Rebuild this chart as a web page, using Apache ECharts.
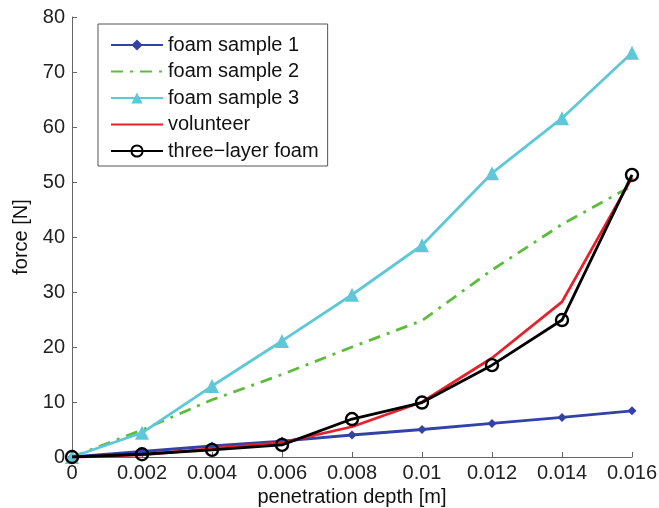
<!DOCTYPE html>
<html><head><meta charset="utf-8">
<script src="https://cdn.jsdelivr.net/npm/echarts@6/dist/echarts.min.js"></script>
<style>html,body{margin:0;padding:0;background:#fff}#c{width:659px;height:508px}</style>
</head><body><div id="c"></div>
<script>
const depth = [0, 0.002, 0.004, 0.006, 0.008, 0.010, 0.012, 0.014, 0.016];
const foam1 = [0, 1.0, 2.0, 2.9, 4.0, 5.0, 6.1, 7.2, 8.4];
const foam2 = [0, 4.9, 10.4, 15.0, 20.0, 24.8, 34.0, 42.3, 49.3];
const foam3 = [0, 4.4, 12.9, 21.1, 29.5, 38.5, 51.6, 61.6, 73.5];
const volunteer = [0, 0.4, 1.5, 2.6, 5.5, 10.0, 18.0, 28.2, 50.8];
const threeLayer = [0, 0.5, 1.3, 2.2, 6.9, 9.9, 16.7, 24.9, 51.3];
const names = ['foam sample 1', 'foam sample 2', 'foam sample 3', 'volunteer', 'three\u2212layer foam'];

const pair = a => depth.map((d, i) => [d, a[i]]);
const font = 'Liberation Sans, Arial, sans-serif';
const chart = echarts.init(document.getElementById('c'));
chart.setOption({
  animation: false,
  grid: {left: 72, right: 27, top: 17, bottom: 51, outerBoundsMode: 'none', containLabel: false},
  legend: {
    orient: 'vertical', left: 98, top: 24, itemGap: 6.5, itemWidth: 52, itemHeight: 14,
    padding: [11, 9, 5, 12],
    borderColor: '#555', borderWidth: 1, backgroundColor: '#fff',
    textStyle: {fontFamily: font, fontSize: 20, color: '#111'},
    data: [
      {name: names[0]},
      {name: names[1], itemStyle: {opacity: 0}},
      {name: names[2]},
      {name: names[3], itemStyle: {opacity: 0}},
      {name: names[4]}
    ]
  },
  xAxis: {
    type: 'value', min: 0, max: 0.016, interval: 0.002,
    name: 'penetration depth [m]', nameLocation: 'middle', nameGap: 27,
    nameTextStyle: {fontFamily: font, fontSize: 20, color: '#111'},
    axisLine: {lineStyle: {color: '#666'}},
    axisTick: {inside: true, length: 5, lineStyle: {color: '#666'}},
    axisLabel: {fontFamily: font, fontSize: 20, color: '#222', margin: 6,
      formatter: v => String(parseFloat(v.toFixed(3)))},
    splitLine: {show: false}
  },
  yAxis: {
    type: 'value', min: 0, max: 80, interval: 10,
    name: 'force [N]', nameLocation: 'middle', nameGap: 37,
    nameTextStyle: {fontFamily: font, fontSize: 20, color: '#111'},
    axisLine: {show: true, lineStyle: {color: '#666'}},
    axisTick: {show: true, inside: true, length: 5, lineStyle: {color: '#666'}},
    axisLabel: {fontFamily: font, fontSize: 20, color: '#222', margin: 7},
    splitLine: {show: false}
  },
  series: [
    {name: names[0], type: 'line', data: pair(foam1), symbol: 'diamond', symbolSize: 9,
      lineStyle: {color: '#3242a6', width: 2.8}, itemStyle: {color: '#3242a6'}, z: 3},
    {name: names[1], type: 'line', data: pair(foam2), symbol: 'none',
      lineStyle: {color: '#5cbd3c', width: 2.8, type: [12, 7, 3, 7]}, itemStyle: {color: '#5cbd3c'}, z: 2},
    {name: names[2], type: 'line', data: pair(foam3), symbol: 'triangle', symbolSize: 14,
      lineStyle: {color: '#5ec7d8', width: 2.8}, itemStyle: {color: '#5ec7d8'}, z: 4},
    {name: names[3], type: 'line', data: pair(volunteer), symbol: 'none',
      lineStyle: {color: '#e8202a', width: 2.8}, itemStyle: {color: '#e8202a'}, z: 5},
    {name: names[4], type: 'line', data: pair(threeLayer), symbol: 'circle', symbolSize: 12,
      lineStyle: {color: '#000', width: 2.8},
      itemStyle: {color: 'rgba(255,255,255,0)', borderColor: '#000', borderWidth: 2.4}, z: 6}
  ]
});
</script></body></html>
